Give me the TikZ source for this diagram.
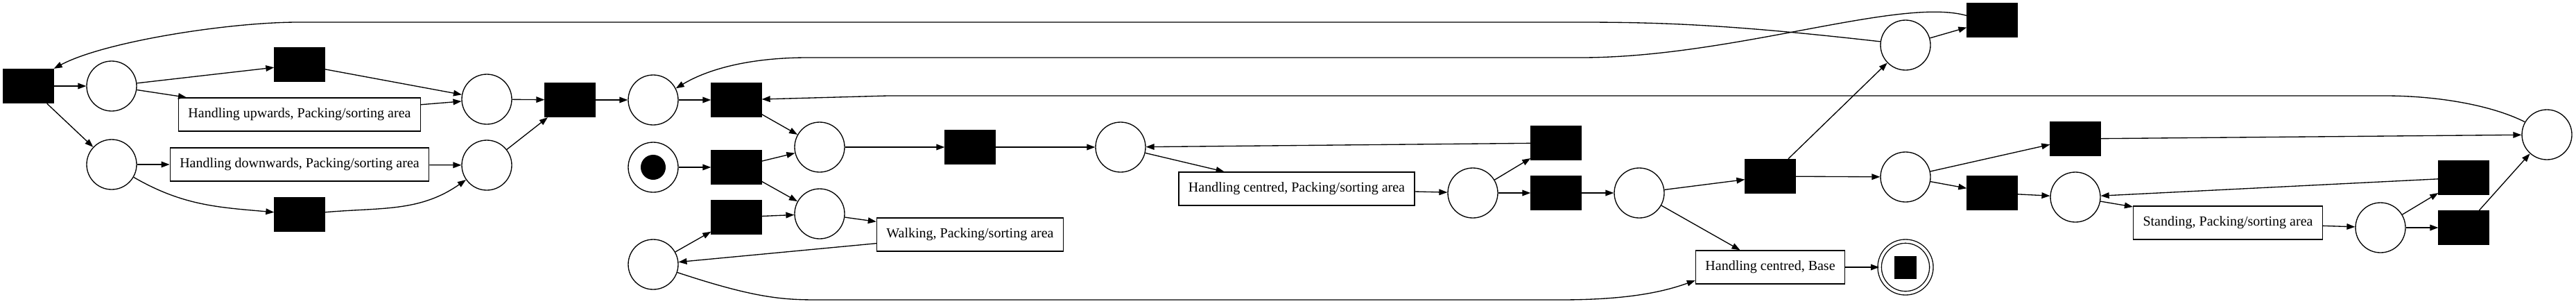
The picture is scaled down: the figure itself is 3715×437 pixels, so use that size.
\documentclass[tikz,border=0pt]{standalone}
\usepackage{fontspec}
\setmainfont{Liberation Serif}
\usepackage{tikz}
\usetikzlibrary{arrows.meta}

\begin{document}
\begin{tikzpicture}[x=0.75pt, y=-0.75pt, line width=1pt,
    >={Triangle[length=9pt,width=6.5pt]},
    place/.style={draw, circle, minimum size=54pt, inner sep=0pt},
    trans/.style={draw, fill=black, minimum width=54pt, minimum height=36.75pt, inner sep=0pt},
    activity/.style={draw, rectangle, minimum height=36pt, inner xsep=10.5pt,
        font=\fontsize{15}{18}\selectfont}]
    \useasboundingbox (0,0) rectangle (3715,437);

    % places
    \node[place] (p1) at (161,124) {};
    \node[place] (p2) at (161,237) {};
    \node[place] (p3) at (702,143) {};
    \node[place] (p4) at (702,238) {};
    \node[place] (p5) at (942,144) {};
    \node[place] (pinit) at (942,241) {};
    \node[place] (p6) at (1182,212) {};
    \node[place] (p7) at (1182,308) {};
    \node[place] (p8) at (942,381) {};
    \node[place] (p9) at (1616,212) {};
    \node[place] (p10) at (2124,278) {};
    \node[place] (p11) at (2364,278) {};
    \node[place] (p12) at (2748,65) {};
    \node[place] (p13) at (2748,255) {};
    \node[place] (p14) at (2993,284) {};
    \node[place] (p15) at (3433,328) {};
    \node[place] (p16) at (3673,194) {};
    \node[place, minimum size=56pt, double, double distance=3pt] (pfinal) at (2748,385) {};
    \node[draw, circle, fill=black, minimum size=26pt, inner sep=0pt] (token) at (pinit) {};
    \node[fill=black, minimum width=24pt, minimum height=24.75pt, inner sep=0pt] (stop) at (pfinal) {};

    % silent transitions
    \node[trans] (t1) at (41,124) {};
    \node[trans] (tup) at (432,93) {};
    \node[trans] (tdown) at (432,309) {};
    \node[trans] (t2) at (822,144) {};
    \node[trans] (t3) at (1062,144) {};
    \node[trans] (t4) at (1062,241) {};
    \node[trans] (t5) at (1062,313) {};
    \node[trans] (t6) at (1399,212) {};
    \node[trans] (t7) at (2244,206) {};
    \node[trans] (t8) at (2244,278) {};
    \node[trans] (t9) at (2553,254) {};
    \node[trans] (t10) at (2873,29) {};
    \node[trans] (t11) at (2993,200) {};
    \node[trans] (t12) at (2873,278) {};
    \node[trans] (t13) at (3553,256) {};
    \node[trans] (t14) at (3553,328) {};

    % labelled transitions
    \node[activity] (hup) at (432,165) {Handling upwards, Packing/sorting area};
    \node[activity] (hdown) at (432,237) {Handling downwards, Packing/sorting area};
    \node[activity] (walk) at (1399,338) {Walking, Packing/sorting area};
    \node[activity] (hcentre) at (1870,272) {Handling centred, Packing/sorting area};
    \node[activity] (hbase) at (2553,385) {Handling centred, Base};
    \node[activity] (stand) at (3213,321) {Standing, Packing/sorting area};

    % arcs
    \draw[->] (t1) -- (p1);
    \draw[->] (t1) -- (p2);
    \draw[->] (p1) -- (tup);
    \draw[->] (p1) -- (hup);
    \draw[->] (tup) -- (p3);
    \draw[->] (hup) -- (p3);
    \draw[->] (p2) -- (hdown);
    \draw[->] (p2) to[out=-30,in=175] (tdown);
    \draw[->] (hdown) -- (p4);
    \draw[->] (tdown) to[out=5,in=-145] (p4);
    \draw[->] (p3) -- (t2);
    \draw[->] (p4) -- (t2);
    \draw[->] (t2) -- (p5);
    \draw[->] (p5) -- (t3);
    \draw[->] (t3) -- (p6);
    \draw[->] (pinit) -- (t4);
    \draw[->] (t4) -- (p6);
    \draw[->] (t4) -- (p7);
    \draw[->] (p8) -- (t5);
    \draw[->] (t5) -- (p7);
    \draw[->] (p7) -- (walk);
    \draw[->] (walk) -- (p8);
    \draw[->] (p8) .. controls (1090,430) and (1130,432) .. (1180,432) -- (2250,432)
        .. controls (2350,432) and (2400,420) .. (hbase.-170);
    \draw[->] (p6) -- (t6);
    \draw[->] (t6) -- (p9);
    \draw[->] (p9) -- (hcentre);
    \draw[->] (hcentre) -- (p10);
    \draw[->] (p10) -- (t7);
    \draw[->] (p10) -- (t8);
    \draw[->] (t7) -- (p9);
    \draw[->] (t8) -- (p11);
    \draw[->] (p11) -- (t9);
    \draw[->] (p11) -- (hbase);
    \draw[->] (hbase) -- (pfinal);
    \draw[->] (t9) -- (p12);
    \draw[->] (t9) -- (p13);
    \draw[->] (p12) -- (t10);
    \draw[->] (p12.172) .. controls (2500,36) and (2400,32) .. (2280,32) -- (430,32)
        .. controls (330,32) and (150,60) .. (t1.north east);
    \draw[->] (t10.170) .. controls (2740,-5) and (2500,83) .. (2280,83) -- (1165,83)
        .. controls (1080,83) and (1020,100) .. (p5.27);
    \draw[->] (p16.150) .. controls (3590,150) and (3510,138) .. (3440,138) -- (1280,138) -- (t3);
    \draw[->] (p13) -- (t11);
    \draw[->] (p13) -- (t12);
    \draw[->] (t11) -- (p16);
    \draw[->] (t12) -- (p14);
    \draw[->] (p14) -- (stand);
    \draw[->] (stand) -- (p15);
    \draw[->] (p15) -- (t13);
    \draw[->] (p15) -- (t14);
    \draw[->] (t13) -- (p14);
    \draw[->] (t14) -- (p16);
\end{tikzpicture}
\end{document}
